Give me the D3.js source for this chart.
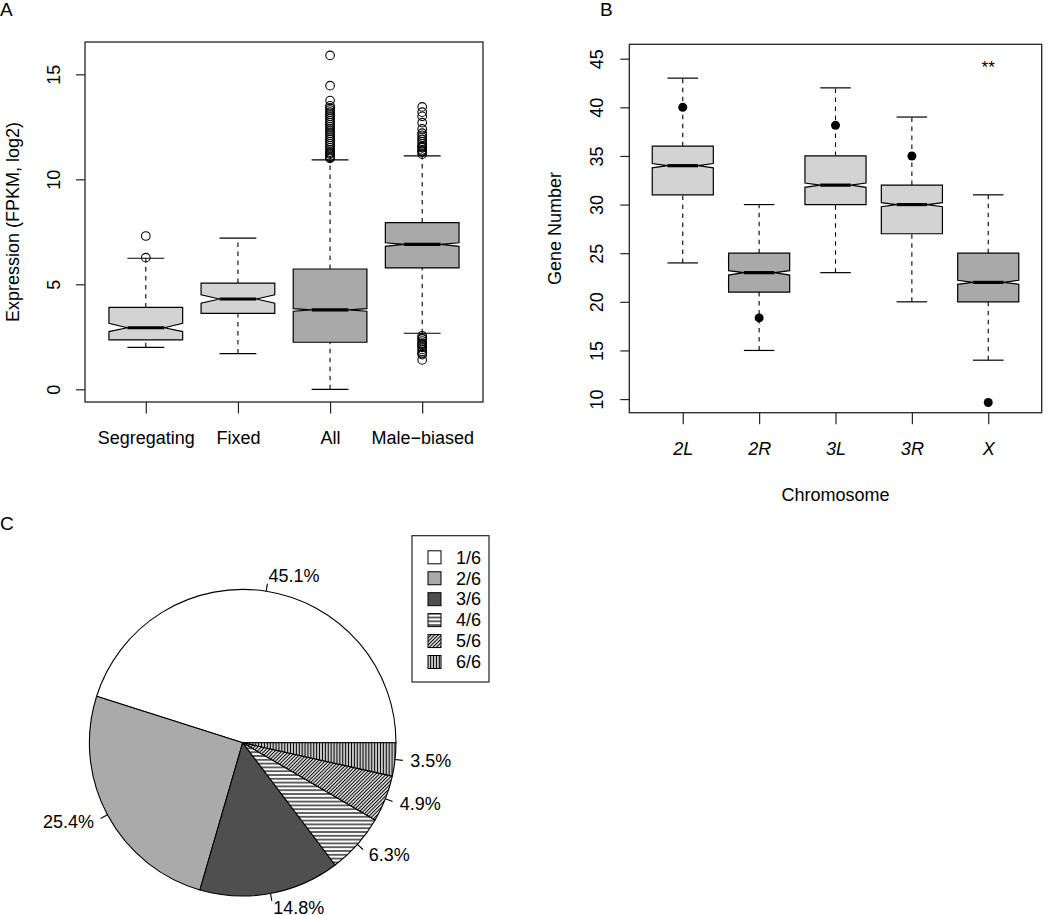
<!DOCTYPE html>
<html><head><meta charset="utf-8">
<script src="https://cdn.jsdelivr.net/npm/d3@7"></script>
<style>
body{margin:0;background:#fff;}
svg text{font-family:"Liberation Sans",Arial,Helvetica,sans-serif;fill:#000;}
</style></head>
<body><svg id="c" width="1050" height="915"></svg>
<script>
// ---------- Panel A data ----------
const catsA = ["Segregating","Fixed","All","Male\u2212biased"];
const lowA  = [2.0, 1.7, 0.0, 2.67];
const q1A   = [2.35, 3.62, 2.24, 5.78];
const notchLoA = [2.75, 4.1, 3.72, 6.81];
const medA  = [2.93, 4.3, 3.78, 6.9];
const notchHiA = [3.14, 4.5, 3.84, 6.98];
const q3A   = [3.9, 5.06, 5.73, 7.94];
const highA = [6.24, 7.2, 10.93, 11.12];
const fillA = ["light","light","dark","dark"];
const outSeg = [6.27, 7.3];
const outFixed = [];
const outAll = [11.0, 11.05, 11.1, 11.2, 11.25, 11.3, 11.4, 11.5, 11.6, 11.7, 11.8, 11.9, 12.0, 12.1, 12.2, 12.3, 12.4, 12.5, 12.6, 12.7, 12.8, 12.9, 13.0, 13.1, 13.2, 13.3, 13.4, 13.5, 13.75, 14.46, 15.9];
const outMale = [11.2, 11.3, 11.35, 11.4, 11.5, 11.55, 11.6, 11.7, 11.8, 11.9, 12.0, 12.1, 12.2, 12.4, 12.7, 13.0, 13.2, 13.45,
                 2.55, 2.45, 2.4, 2.3, 2.2, 2.15, 2.1, 2.0, 1.9, 1.8, 1.7, 1.65, 1.4];
const outA = [outSeg, outFixed, outAll, outMale];
const ticksA = [0, 5, 10, 15];

// ---------- Panel B data ----------
const catsB = ["2L","2R","3L","3R","X"];
const lowB  = [24, 15, 23, 20, 14];
const q1B   = [31, 21, 30, 27, 20];
const notchLoB = [33.78, 22.75, 31.77, 29.78, 21.8];
const medB  = [34, 23, 32, 30, 22];
const notchHiB = [34.22, 23.2, 32.22, 30.2, 22.22];
const q3B   = [36, 25, 35, 32, 25];
const highB = [43, 30, 42, 39, 31];
const fillB = ["light","dark","light","light","dark"];
const outB  = [[40], [18.35], [38.15], [35], [9.65]];
const ticksB = [10, 15, 20, 25, 30, 35, 40, 45];

// ---------- Panel C data ----------
const pieCats = ["1/6","2/6","3/6","4/6","5/6","6/6"];
const pieVals = [45.1, 25.4, 14.8, 6.3, 4.9, 3.5];
const pieLabels = ["45.1%","25.4%","14.8%","6.3%","4.9%","3.5%"];
const pieFills = ["solid:#ffffff","solid:#aaaaaa","solid:#4f4f4f","hatch:h","hatch:d","hatch:v"];

const colors = {light:"#d3d3d3", dark:"#a9a9a9"};
const svg = d3.select("#c");
const FS = 18;

// patterns
const defs = svg.append("defs");
function hatch(id, size, angle, sw){
  const p = defs.append("pattern").attr("id", id).attr("patternUnits","userSpaceOnUse")
    .attr("width", size).attr("height", size).attr("patternTransform", `rotate(${angle})`);
  p.append("rect").attr("width", size).attr("height", size).attr("fill", "#fff");
  p.append("line").attr("x1",0).attr("y1",size/2).attr("x2",size).attr("y2",size/2)
    .attr("stroke","#000").attr("stroke-width", sw);
}
hatch("h", 3.8, 0, 1.2);
hatch("d", 2.5, -45, 1.15);
hatch("v", 2.9, 90, 1.4);
function fillOf(f){ const [t,v] = f.split(":"); return t==="solid" ? v : `url(#${v})`; }

function boxPanel(cfg){
  const g = svg.append("g");
  const x = d3.scaleLinear().domain(cfg.xdom).range([cfg.left, cfg.right]);
  const y = d3.scaleLinear().domain(cfg.ydom).range([cfg.bottom, cfg.top]);
  const unit = x(1) - x(0);
  const w = 0.8 * unit;
  cfg.cats.forEach((c, i) => {
    const cx = x(i + 1);
    [[cfg.low[i], cfg.q1[i]], [cfg.q3[i], cfg.high[i]]].forEach(([a,b]) => {
      g.append("line").attr("x1",cx).attr("x2",cx).attr("y1",y(a)).attr("y2",y(b))
        .attr("stroke","#000").attr("stroke-width",1.1).attr("stroke-dasharray","4.5,4.5");
    });
    [cfg.low[i], cfg.high[i]].forEach(v => {
      g.append("line").attr("x1",cx - w/4).attr("x2",cx + w/4).attr("y1",y(v)).attr("y2",y(v))
        .attr("stroke","#000").attr("stroke-width",1.2);
    });
    const L = cx - w/2, R = cx + w/2, l = cx - w/4, r = cx + w/4;
    const pts = [[L,y(cfg.q1[i])],[L,y(cfg.nlo[i])],[l,y(cfg.med[i])],[L,y(cfg.nhi[i])],[L,y(cfg.q3[i])],
                 [R,y(cfg.q3[i])],[R,y(cfg.nhi[i])],[r,y(cfg.med[i])],[R,y(cfg.nlo[i])],[R,y(cfg.q1[i])]];
    g.append("path").attr("d", d3.line()(pts) + "Z")
      .attr("fill", colors[cfg.fill[i]]).attr("stroke","#000").attr("stroke-width",1.2);
    g.append("line").attr("x1",l).attr("x2",r).attr("y1",y(cfg.med[i])).attr("y2",y(cfg.med[i]))
      .attr("stroke","#000").attr("stroke-width",3.2);
    cfg.out[i].forEach(v => {
      const c0 = g.append("circle").attr("cx",cx).attr("cy",y(v)).attr("r", cfg.filled ? 4.5 : 4.3);
      if (cfg.filled) c0.attr("fill","#000");
      else c0.attr("fill","none").attr("stroke","#000").attr("stroke-width",1.1);
    });
  });
  g.append("rect").attr("x",cfg.left).attr("y",cfg.top).attr("width",cfg.right-cfg.left)
    .attr("height",cfg.bottom-cfg.top).attr("fill","none").attr("stroke","#222").attr("stroke-width",1.3);
  const ya = g.append("g").attr("transform",`translate(${cfg.left},0)`)
    .call(d3.axisLeft(y).tickValues(cfg.ticks).tickSize(9).tickFormat(d3.format("d")));
  ya.select(".domain").remove();
  ya.selectAll("line").attr("stroke","#222").attr("stroke-width",1.2);
  ya.selectAll("text").attr("font-size",FS).attr("fill","#000")
    .attr("x",0).attr("y",0).attr("dy",null).attr("text-anchor","middle")
    .attr("transform", `translate(${cfg.tickLabX - cfg.left},0) rotate(-90)`);
  const xa = g.append("g").attr("transform",`translate(0,${cfg.bottom})`)
    .call(d3.axisBottom(x).tickValues(cfg.cats.map((c,i)=>i+1)).tickSize(11.5).tickFormat((d)=>cfg.cats[d-1]));
  xa.select(".domain").remove();
  xa.selectAll("line").attr("stroke","#222").attr("stroke-width",1.2);
  xa.selectAll("text").attr("font-size",FS).attr("fill","#000").attr("dy",null)
    .attr("y", cfg.xLabBase - cfg.bottom).attr("font-style", cfg.italic ? "italic" : null);
  g.append("text").attr("transform",`translate(${cfg.yLabX},${(cfg.top+cfg.bottom)/2}) rotate(-90)`)
    .attr("text-anchor","middle").attr("font-size",FS).text(cfg.ylab);
  if (cfg.xlab) g.append("text").attr("x",(cfg.left+cfg.right)/2).attr("y",cfg.xlabY)
    .attr("text-anchor","middle").attr("font-size",FS).text(cfg.xlab);
  return {x, y, g};
}

boxPanel({cats:catsA, low:lowA, q1:q1A, nlo:notchLoA, med:medA, nhi:notchHiA, q3:q3A, high:highA,
  fill:fillA, out:outA, ticks:ticksA, xdom:[0.34,4.66], ydom:[-0.605,16.54],
  left:85, right:483, top:42, bottom:402, tickLabX:60, xLabBase:444, yLabX:18.5,
  ylab:"Expression (FPKM, log2)", filled:false});

const pB = boxPanel({cats:catsB, low:lowB, q1:q1B, nlo:notchLoB, med:medB, nhi:notchHiB, q3:q3B, high:highB,
  fill:fillB, out:outB, ticks:ticksB, xdom:[0.3,5.7], ydom:[8.6,46.48],
  left:629.3, right:1041.7, top:44.3, bottom:412.7, tickLabX:603, xLabBase:455, yLabX:561,
  ylab:"Gene Number", xlab:"Chromosome", xlabY:501, filled:true, italic:true});
pB.g.append("text").attr("x", pB.x(5)).attr("y", 73).attr("text-anchor","middle")
  .attr("font-size",17).attr("fill","#333").text("**");

svg.append("text").attr("x",0).attr("y",16).attr("font-size",19).text("A");
svg.append("text").attr("x",600).attr("y",16).attr("font-size",19).text("B");
svg.append("text").attr("x",0).attr("y",530).attr("font-size",19).text("C");

// ---------- Pie ----------
const cx = 242.7, cy = 742.7, R = 153.3;
const pg = svg.append("g").attr("transform",`translate(${cx},${cy})`);
const pie = d3.pie().sort(null).startAngle(Math.PI/2).endAngle(Math.PI/2 - 2*Math.PI);
const arcs = pie(pieVals);
const arc = d3.arc().innerRadius(0).outerRadius(R);
pg.selectAll("path.s").data(arcs).join("path").attr("class","s")
  .attr("d", arc).attr("fill", (d,i)=>fillOf(pieFills[i]))
  .attr("stroke","#000").attr("stroke-width",1.1).attr("stroke-linejoin","round");
arcs.forEach((d,i) => {
  const a = (d.startAngle + d.endAngle)/2;
  const sx = Math.sin(a), sy = -Math.cos(a);
  pg.append("line").attr("x1",R*sx).attr("y1",R*sy).attr("x2",1.05*R*sx).attr("y2",1.05*R*sy)
    .attr("stroke","#000").attr("stroke-width",1.1);
  pg.append("text").attr("x",1.1*R*sx).attr("y",1.1*R*sy).attr("dy","0.33em")
    .attr("text-anchor", sx < 0 ? "end" : "start").attr("font-size",FS).text(pieLabels[i]);
});

const lg = svg.append("g");
lg.append("rect").attr("x",412).attr("y",535.7).attr("width",77).attr("height",146.3)
  .attr("fill","#fff").attr("stroke","#222").attr("stroke-width",1.2);
const rowY = d3.scaleLinear().domain([0,5]).range([557.3,662]);
pieCats.forEach((c,i) => {
  lg.append("rect").attr("x",428).attr("y",rowY(i)-6.5).attr("width",13).attr("height",13)
    .attr("fill", fillOf(pieFills[i])).attr("stroke","#000").attr("stroke-width",1);
  lg.append("text").attr("x",456).attr("y",rowY(i)).attr("dy","0.35em").attr("font-size",FS).text(c);
});
</script></body></html>
